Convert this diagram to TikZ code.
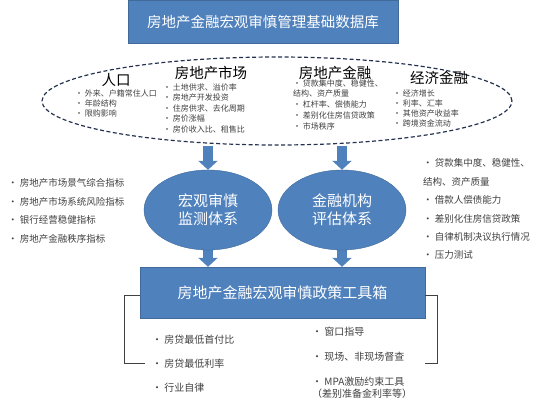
\documentclass[tikz,border=0pt]{standalone}
\usepackage{fontspec}
\setmainfont{Noto Sans CJK SC}
\usetikzlibrary{shapes.geometric,arrows.meta,backgrounds}
\definecolor{boxblue}{HTML}{4F81BD}
\definecolor{edgeblue}{HTML}{41699A}
\definecolor{itemgray}{HTML}{404040}
\definecolor{dashnavy}{HTML}{24324F}
\tikzset{
  bluebox/.style={draw=edgeblue, fill=boxblue, text=white, inner sep=0pt},
  blueoval/.style={ellipse, draw=edgeblue, fill=boxblue, text=white, inner sep=0pt,
    minimum width=128pt, minimum height=80pt, align=center,
    font=\fontsize{15}{18}\selectfont},
  heading/.style={text=black, inner sep=0pt, font=\fontsize{14.5}{16}\selectfont},
  item/.style={anchor=west, text=itemgray, inner sep=0pt, align=left},
  smallitem/.style={item, font=\fontsize{8}{9.5}\selectfont},
  sideitem/.style={item, font=\fontsize{9.5}{19}\selectfont},
  blockarrow/.style={draw=boxblue, line width=10pt, -{Triangle[width=19pt,length=9pt]}},
  bracket/.style={draw=black!75, line width=1pt}
}
\begin{document}
\begin{tikzpicture}[x=1pt, y=-1pt]
  \useasboundingbox (0,0) rectangle (550,405);

  % database on top
  \node[bluebox, minimum width=270pt, minimum height=43pt,
    font=\fontsize{14.5}{16}\selectfont] (base) at (263,21.5) {房地产金融宏观审慎管理基础数据库};

  % dashed pool of data groups
  \node[ellipse, draw=dashnavy, line width=1.2pt, dash pattern=on 4pt off 2.5pt,
    minimum width=470pt, minimum height=88pt] (pool) at (277,101) {};

  \node[heading] (popu) at (116,80) {人口};
  \node[heading] (mkt) at (211,73) {房地产市场};
  \node[heading] (fin) at (335,73) {房地产金融};
  \node[heading] (econ) at (439,78) {经济金融};

  \foreach \t [count=\i] in {外来、户籍常住人口, 年龄结构, 限购影响}
    \node[smallitem] (popu\i) at (75, 83+10*\i) {• \t};
  \foreach \t [count=\i] in {土地供求、溢价率, 房地产开发投资, 住房供求、去化周期, 房价涨幅, 房价收入比、租售比}
    \node[smallitem] (mkt\i) at (163, 76.5+10.5*\i) {• \t};
  \foreach \y/\t [count=\i] in {88.5/{• 贷款集中度、稳健性、\\结构、资产质量}, 104/• 杠杆率、偿债能力,
      115/• 差别化住房信贷政策, 126/• 市场秩序}
    \node[smallitem] (fin\i) at (293, \y) {\t};
  \foreach \t [count=\i] in {经济增长, 利率、汇率, 其他资产收益率, 跨境资金流动}
    \node[smallitem] (econ\i) at (393, 83+10*\i) {• \t};

  % two systems
  \node[blueoval] (monitor) at (208,210) {宏观审慎\\监测体系};
  \node[blueoval] (assess) at (342,210) {金融机构\\评估体系};

  \foreach \t [count=\i] in {房地产市场景气综合指标, 房地产市场系统风险指标, 银行经营稳健指标, 房地产金融秩序指标}
    \node[sideitem] (left\i) at (8, 164.5+18.5*\i) {• \t};
  \foreach \y/\t [count=\i] in {172.5/{• 贷款集中度、稳健性、\\结构、资产质量}, 200/• 借款人偿债能力,
      219/• 差别化住房信贷政策, 237/• 自律机制决议执行情况, 255/• 压力测试}
    \node[sideitem] (right\i) at (423, \y) {\t};

  % toolbox
  \node[bluebox, minimum width=285pt, minimum height=51pt,
    font=\fontsize{15}{17}\selectfont] (tools) at (282.5,292.5) {房地产金融宏观审慎政策工具箱};

  \foreach \t [count=\i] in {房贷最低首付比, 房贷最低利率, 行业自律}
    \node[sideitem, font=\fontsize{10}{12}\selectfont] (rule\i) at (152, 316+24*\i) {• \t};
  \foreach \y/\t [count=\i] in {332/• 窗口指导, 357/• 现场、非现场督查,
      388/{• MPA激励约束工具\\（差别准备金利率等）}}
    \node[sideitem, font=\fontsize{10}{12}\selectfont] (guide\i) at (312, \y) {\t};

  \coordinate (lbend) at (145,363);
  \coordinate (rbend) at (425,363);
  \draw[bracket] ([yshift=-2.5pt]tools.west) -- ++(-15,0) |- (lbend);
  \draw[bracket] ([yshift=-2.5pt]tools.east) -- ++(12,0) |- (rbend);

  \begin{pgfonlayer}{background}
    \draw[blockarrow] (monitor.north |- pool.south) -- (monitor.north);
    \draw[blockarrow] (assess.north |- pool.south) -- (assess.north);
    \draw[blockarrow] (monitor.south) -- (monitor.south |- tools.north);
    \draw[blockarrow] (assess.south) -- (assess.south |- tools.north);
  \end{pgfonlayer}
\end{tikzpicture}
\end{document}
